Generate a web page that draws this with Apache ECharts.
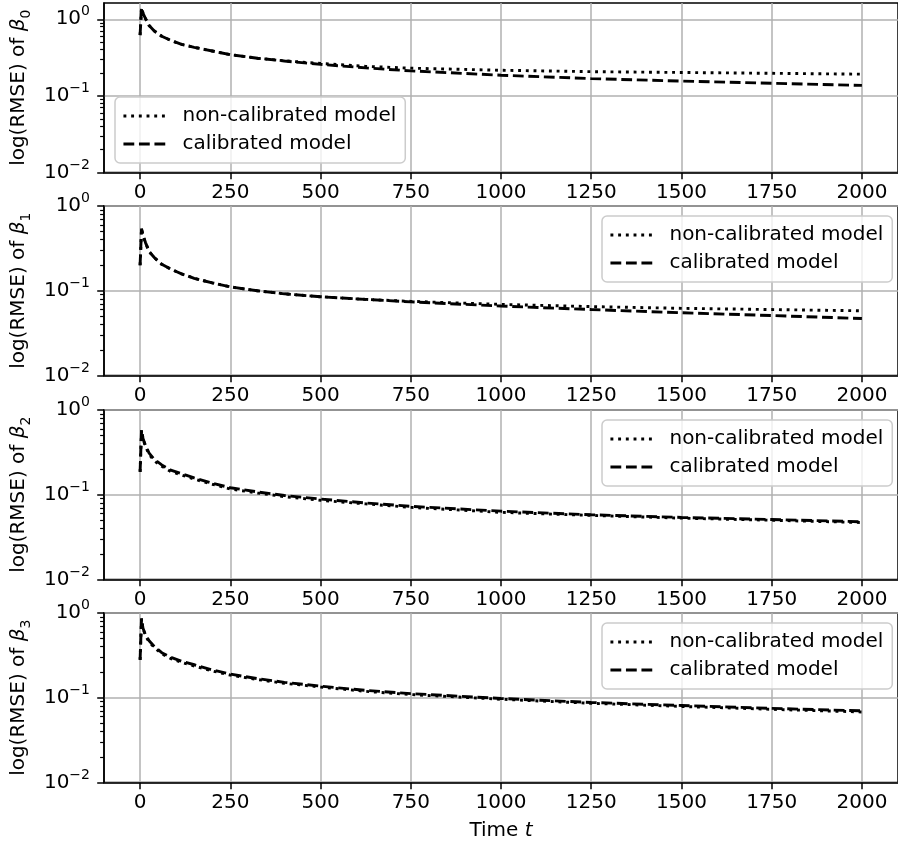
<!DOCTYPE html>
<html>
<head>
<meta charset="utf-8">
<script src="https://cdn.jsdelivr.net/npm/echarts@6/dist/echarts.min.js"></script>
<style>
  html, body { margin: 0; padding: 0; background: #fff; }
  #chart { width: 898px; height: 848px; }
</style>
</head>
<body>
<div id="chart"></div>
<script>
// Time steps at which the RMSE was recorded
const timeSteps = [0, 4, 8, 15, 25, 40, 60, 85, 115, 150, 200, 250, 325, 400, 500, 625, 750, 1000, 1250, 1500, 1750, 2000];

// RMSE of each coefficient, non-calibrated vs calibrated model
const beta0NonCal = [0.62, 1.42, 1.2, 1.02, 0.83, 0.70, 0.60, 0.53, 0.47, 0.43, 0.385, 0.345, 0.31, 0.287, 0.265, 0.243, 0.230, 0.216, 0.207, 0.202, 0.197, 0.192];
const beta0Cal    = [0.62, 1.42, 1.2, 1.02, 0.83, 0.70, 0.60, 0.53, 0.47, 0.43, 0.385, 0.345, 0.31, 0.285, 0.258, 0.232, 0.212, 0.186, 0.168, 0.156, 0.146, 0.137];

const beta1NonCal = [0.20, 0.54, 0.45, 0.37, 0.29, 0.245, 0.205, 0.18, 0.158, 0.14, 0.124, 0.111, 0.10, 0.092, 0.085, 0.079, 0.075, 0.069, 0.065, 0.062, 0.060, 0.058];
const beta1Cal    = [0.20, 0.54, 0.45, 0.37, 0.29, 0.245, 0.205, 0.18, 0.158, 0.14, 0.124, 0.111, 0.10, 0.092, 0.085, 0.079, 0.074, 0.066, 0.060, 0.055, 0.051, 0.047];

const beta2NonCal = [0.186, 0.58, 0.46, 0.37, 0.30, 0.25, 0.217, 0.188, 0.171, 0.153, 0.133, 0.117, 0.105, 0.095, 0.086, 0.078, 0.071, 0.062, 0.057, 0.053, 0.050, 0.047];
const beta2Cal    = [0.186, 0.58, 0.46, 0.38, 0.31, 0.26, 0.225, 0.195, 0.177, 0.158, 0.137, 0.121, 0.108, 0.098, 0.089, 0.080, 0.073, 0.064, 0.058, 0.054, 0.051, 0.048];

const beta3NonCal = [0.28, 0.86, 0.66, 0.54, 0.455, 0.39, 0.33, 0.29, 0.262, 0.237, 0.207, 0.185, 0.164, 0.148, 0.134, 0.119, 0.109, 0.096, 0.086, 0.079, 0.073, 0.068];
const beta3Cal    = [0.28, 0.86, 0.66, 0.55, 0.47, 0.40, 0.34, 0.30, 0.27, 0.245, 0.213, 0.19, 0.168, 0.152, 0.137, 0.122, 0.112, 0.098, 0.088, 0.081, 0.075, 0.070];

// Axis ticks
const xTicks = [0, 250, 500, 750, 1000, 1250, 1500, 1750, 2000];
const yMajorTicks = [0.01, 0.1, 1];
const yMinorTicks = [0.02, 0.03, 0.04, 0.05, 0.06, 0.07, 0.08, 0.09, 0.2, 0.3, 0.4, 0.5, 0.6, 0.7, 0.8, 0.9];

const seriesNames = ['non-calibrated model', 'calibrated model'];
const panelIndices = ['0', '1', '2', '3'];
const panelData = [
  [beta0NonCal, beta0Cal],
  [beta1NonCal, beta1Cal],
  [beta2NonCal, beta2Cal],
  [beta3NonCal, beta3Cal]
];

const FONT = 'DejaVu Sans';
const FS = 20;
const SUB = 14;

// Panel geometry
const gridLeft = 104, gridWidth = 802, gridHeight = 169.5;
const gridTops = [3, 206, 410, 613];
const yMaxes = [1.63, 1, 1, 1];
const legendPos = [
  { left: 115, top: 97 },
  { left: 602, top: 216 },
  { left: 602, top: 420 },
  { left: 602, top: 623 }
];

// line styles: dotted for the non-calibrated model, dashed for the calibrated one
const LINE_W = 2.9;
const lineTypes = [[2.9, 4.8], [10.8, 4.7]];

function pairs(xs, ys) { return xs.map((x, i) => [x, ys[i]]); }

function powerLabel(v) {
  const e = Math.round(Math.log10(v));
  const s = e < 0 ? '\u2212' + (-e) : String(e);
  return '{b|10}{s|' + s + '}';
}

const grids = [], xAxes = [], yAxes = [], series = [], legends = [];

gridTops.forEach((top, i) => {
  grids.push({
    left: gridLeft, top: top, width: gridWidth, height: gridHeight,
    show: true, borderColor: '#000', borderWidth: 1.5, backgroundColor: 'transparent'
  });

  const last = i === gridTops.length - 1;
  xAxes.push({
    type: 'value', gridIndex: i, min: -100, max: 2100,
    name: last ? '{a|Time }{b|t}' : '',
    nameLocation: 'middle', nameGap: 38,
    nameTextStyle: {
      rich: {
        a: { fontFamily: FONT, fontSize: FS, color: '#000' },
        b: { fontFamily: FONT, fontSize: FS, color: '#000', fontStyle: 'italic' }
      }
    },
    axisLine: { show: true, onZero: false, lineStyle: { color: '#000', width: 1.5 } },
    axisTick: { show: true, inside: false, length: 6.8, lineStyle: { color: '#000', width: 1.5 }, customValues: xTicks },
    axisLabel: {
      show: true, customValues: xTicks, margin: 10, color: '#000', fontFamily: FONT, fontSize: FS,
      formatter: v => String(v)
    },
    splitLine: { show: true, lineStyle: { color: '#b0b0b0', width: 1.5 } }
  });

  const axisNameRich = {
    a: { fontFamily: FONT, fontSize: FS, color: '#000', lineHeight: 29 },
    g: { fontFamily: FONT, fontSize: FS, color: '#000', fontStyle: 'italic', lineHeight: 29 },
    c: { fontFamily: FONT, fontSize: SUB, color: '#000', lineHeight: 17, verticalAlign: 'bottom' }
  };

  // major ticks, labels and grid lines
  yAxes.push({
    type: 'log', logBase: 10, gridIndex: i, min: 0.01, max: yMaxes[i], position: 'left',
    name: '{a|log(RMSE) of }{g|\u03b2}{c|' + panelIndices[i] + '}',
    nameLocation: 'middle', nameGap: 64, nameRotate: 90,
    nameTextStyle: { rich: axisNameRich },
    axisLine: { show: true, onZero: false, lineStyle: { color: '#000', width: 1.5 } },
    axisTick: { show: true, inside: false, length: 6.8, lineStyle: { color: '#000', width: 1.5 }, customValues: yMajorTicks },
    axisLabel: {
      show: true, customValues: yMajorTicks, margin: 14,
      formatter: powerLabel,
      rich: {
        b: { fontFamily: FONT, fontSize: FS, color: '#000', lineHeight: 29 },
        s: { fontFamily: FONT, fontSize: SUB, color: '#000', lineHeight: 16, verticalAlign: 'top' }
      }
    },
    splitLine: { show: true, lineStyle: { color: '#b0b0b0', width: 1.5 } },
    minorTick: { show: false }
  });
  // minor ticks at 2..9 times each decade
  yAxes.push({
    type: 'log', logBase: 10, gridIndex: i, min: 0.01, max: yMaxes[i], position: 'left', offset: 0,
    axisLine: { show: false, onZero: false },
    axisTick: { show: true, inside: false, length: 3.9, lineStyle: { color: '#000', width: 1.2 }, customValues: yMinorTicks },
    axisLabel: { show: false },
    splitLine: { show: false }
  });

  seriesNames.forEach((nm, k) => {
    series.push({
      name: nm, type: 'line', xAxisIndex: i, yAxisIndex: 2 * i,
      data: pairs(timeSteps, panelData[i][k]),
      symbol: 'none', showSymbol: false, smooth: false, silent: true, animation: false,
      lineStyle: { color: '#000', width: LINE_W, type: lineTypes[k], cap: 'butt' },
      itemStyle: { color: '#000' },
      z: 3 + k
    });
  });

  legends.push({
    data: seriesNames.map((nm, k) => ({
      name: nm,
      lineStyle: { color: '#000', width: LINE_W, type: lineTypes[k], cap: 'butt' }
    })),
    orient: 'vertical',
    left: legendPos[i].left, top: legendPos[i].top,
    padding: [8, 9, 8, 7], itemGap: 6, itemWidth: 42, itemHeight: 14,
    backgroundColor: 'rgba(255,255,255,0.8)', borderColor: '#cccccc', borderWidth: 1.5, borderRadius: 5,
    selectedMode: false,
    itemStyle: { color: 'rgba(0,0,0,0)', borderColor: 'rgba(0,0,0,0)', borderWidth: 0 },
    textStyle: { fontFamily: FONT, fontSize: FS, color: '#000', lineHeight: 22, padding: [0, 0, 0, 12] },
    z: 10
  });
});

const chart = echarts.init(document.getElementById('chart'), null, { renderer: 'canvas' });
chart.setOption({
  animation: false,
  backgroundColor: '#fff',
  textStyle: { fontFamily: FONT },
  grid: grids,
  xAxis: xAxes,
  yAxis: yAxes,
  legend: legends,
  series: series
});
</script>
</body>
</html>
